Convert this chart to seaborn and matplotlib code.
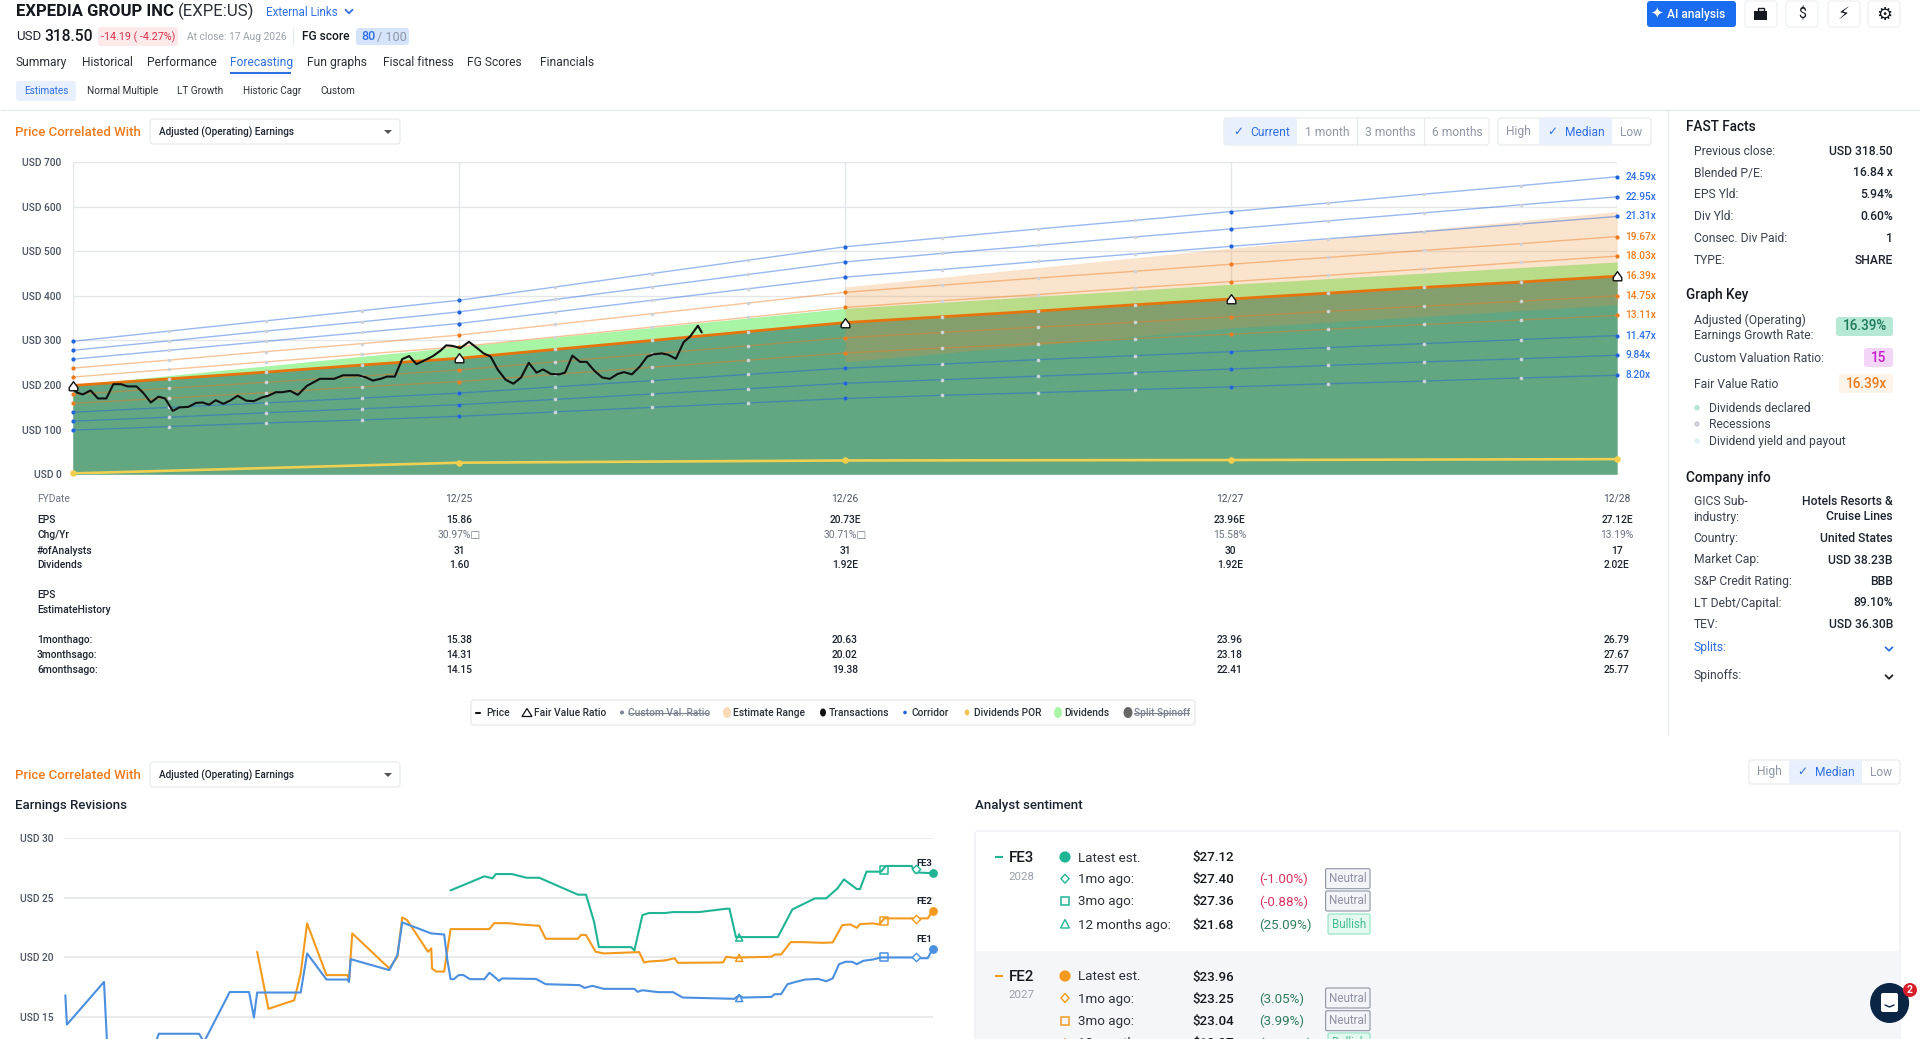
import matplotlib
matplotlib.use("Agg")
import matplotlib.pyplot as plt
from matplotlib.patches import FancyBboxPatch, Rectangle, Ellipse, Circle, Polygon
import seaborn as sns

# ---------- main chart data ----------
quarters = [0, .25, .5, .75, 1, 1.25, 1.5, 1.75, 2, 2.25, 2.5, 2.75, 3, 3.25, 3.5, 3.75, 4]
year_pos = [0, 1, 2, 3, 4]
year_labels = ["12/25", "12/26", "12/27", "12/28"]
y_ticks_main = [0, 100, 200, 300, 400, 500, 600, 700]

line_2459 = [298, 321, 344, 367, 390, 420, 450, 480, 510, 530, 550, 569, 589, 608, 628, 647, 667]
line_2295 = [278, 299, 321, 342, 364, 392, 420, 448, 476, 495, 513, 532, 550, 568, 586, 604, 622]
line_2131 = [258, 278, 298, 318, 338, 364, 390, 416, 442, 459, 477, 494, 511, 528, 544, 561, 578]
line_1967 = [238, 256, 275, 293, 312, 336, 360, 384, 408, 424, 440, 455, 471, 486, 502, 517, 533]
line_1803 = [218, 235, 252, 269, 286, 308, 330, 352, 374, 389, 403, 418, 432, 446, 460, 475, 489]
line_1639 = [199, 214, 229, 245, 260, 280, 300, 320, 340, 353, 366, 380, 393, 406, 419, 431, 444]
line_1475 = [179, 193, 206, 220, 234, 252, 270, 288, 306, 318, 330, 341, 353, 365, 377, 388, 400]
line_1311 = [159, 171, 183, 196, 208, 224, 240, 256, 272, 283, 293, 304, 314, 325, 336, 346, 356]
line_1147 = [139, 150, 160, 171, 182, 196, 210, 224, 238, 247, 257, 266, 275, 284, 293, 302, 311]
line_984 = [119, 128, 138, 147, 156, 168, 180, 192, 204, 212, 220, 228, 236, 244, 252, 259, 267]
line_820 = [99, 107, 115, 122, 130, 140, 150, 160, 170, 177, 183, 190, 196, 203, 209, 216, 222]

corridor_blue = {"24.59x": line_2459, "22.95x": line_2295, "21.31x": line_2131,
                 "11.47x": line_1147, "9.84x": line_984, "8.20x": line_820}
corridor_orange = {"19.67x": line_1967, "18.03x": line_1803,
                   "14.75x": line_1475, "13.11x": line_1311}

fair_value = [199, 260, 340, 393, 444]
dividend_top = [200, 286, 372, 426, 476]
estimate_x = [2, 3, 4]
estimate_high = [420, 507, 589]
estimate_low = [252, 328, 380]
dividend_por = [2, 26, 31, 32, 34]

price_t = [0, .011, .026, .046, .065, .087, .105, .125, .142, .165, .182, .202, .222, .239, .259,
           .276, .299, .319, .336, .353, .370, .390, .407, .427, .449, .469, .489, .506, .526, .542,
           .563, .583, .606, .640, .677, .700, .740, .760, .777, .797, .814, .834, .853, .871, .890,
           .908, .933, .952, .967, .982, 1.004, 1.026, 1.047, 1.064, 1.082, 1.101, 1.121, 1.141, 1.161,
           1.181, 1.201, 1.218, 1.238, 1.260, 1.275, 1.294, 1.314, 1.331, 1.351, 1.371, 1.391, 1.411,
           1.428, 1.448, 1.468, 1.488, 1.505, 1.525, 1.542, 1.562, 1.582, 1.599, 1.619, 1.629]
price_v = [193, 183, 179, 188, 170, 170, 202, 202, 197, 197, 183, 161, 174, 170, 142,
           150, 151, 160, 161, 156, 166, 158, 165, 176, 165, 164, 172, 176, 184, 184,
           187, 178, 198, 214, 214, 222, 222, 217, 210, 214, 219, 219, 258, 265, 247,
           254, 265, 277, 289, 288, 283, 297, 283, 271, 264, 234, 212, 203, 217,
           250, 228, 235, 225, 224, 228, 266, 252, 252, 232, 217, 214, 225,
           229, 224, 241, 264, 269, 271, 268, 259, 296, 309, 333, 318]

# ---------- table ----------
table_rows = ["EPS", "Chg/Yr", "#ofAnalysts", "Dividends"]
eps_row = ["15.86", "20.73E", "23.96E", "27.12E"]
chg_row = ["30.97%\u25a1", "30.71%\u25a1", "15.58%", "13.19%"]
analysts_row = ["31", "31", "30", "17"]
dividends_row = ["1.60", "1.92E", "1.92E", "2.02E"]
hist_labels = ["1monthago:", "3monthsago:", "6monthsago:"]
hist_1m = ["15.38", "20.63", "23.96", "26.79"]
hist_3m = ["14.31", "20.02", "23.18", "27.67"]
hist_6m = ["14.15", "19.38", "22.41", "25.77"]

# ---------- earnings revisions ----------
y_ticks_rev = [15, 20, 25, 30]
fe1_m = [53.8, 53.7, 51.4, 51.2, 48.3, 48.0, 45.5, 45.2, 43.6, 42.4, 42.1, 41.9, 39.2, 38.8, 37.6, 36.3, 36.2, 36.1,
         33.7, 33.2, 32.9, 31.1, 30.3, 30.1, 29.9, 29.7, 29.4, 29.1, 28.7, 27.8, 27.5, 27.3, 26.9, 26.7, 24.6, 24.0,
         21.9, 21.6, 21.1, 20.4, 18.5, 18.3, 18.0, 17.0, 16.1, 15.5, 12.3, 12.0, 11.8, 10.0, 9.8, 9.4, 9.0, 8.5, 7.9,
         7.1, 6.6, 6.2, 5.8, 5.4, 5.0, 4.7, 4.3, 3.7, 3.2, 1.3, 0.9, 0.3, 0]
fe1_v = [16.83, 14.37, 17.95, 12.5, 12.5, 13.6, 13.6, 12.9, 17.1, 17.1, 14.96, 17.06, 17.06, 20.34, 18.15, 18.15, 17.95, 19.86,
         18.94, 20.2, 22.94, 22.02, 21.93, 19.78, 18.18, 18.18, 18.52, 18.52, 18.18, 18.18, 18.71, 18.52, 18.04, 18.24, 18.2, 17.76,
         17.68, 17.45, 17.62, 17.37, 17.37, 17.12, 17.25, 17.09, 17.09, 16.64, 16.53, 16.83, 16.64, 16.69, 16.92, 16.92, 17.76, 17.95, 18.15,
         18.2, 18.01, 18.24, 19.44, 19.64, 19.64, 19.44, 19.72, 19.83, 20.0, 20.0, 19.94, 19.94, 20.73]
fe2_m = [41.9, 41.2, 39.6, 39.2, 38.8, 37.6, 36.3, 36.2, 36.0, 33.7, 33.2, 32.9, 32.6, 31.3, 31.1, 31.05, 30.8, 30.3, 29.9,
         27.5, 27.2, 26.3, 25.6, 24.4, 24.0, 22.0, 21.8, 21.5, 20.9, 20.4, 18.2, 17.9, 17.6, 16.6, 16.0, 15.8, 13.0, 12.8,
         12.3, 12.0, 10.0, 9.8, 9.4, 8.8, 8.1, 6.8, 6.2, 5.6, 5.1, 4.7, 4.5, 3.7, 3.3, 3.0, 0.9, 0.3, 0]
fe2_v = [20.48, 15.69, 16.41, 18.66, 22.86, 18.52, 18.52, 18.1, 22.02, 19.08, 20.06, 23.36, 23.14, 20.48, 20.76, 19.08, 18.82, 18.82, 22.38,
         22.38, 22.88, 22.88, 22.77, 22.66, 21.57, 21.57, 21.9, 21.88, 20.48, 20.34, 20.45, 19.58, 19.66, 19.75, 19.94, 19.55, 19.58, 20.06,
         19.97, 20.0, 20.06, 20.25, 20.25, 21.29, 21.29, 21.23, 21.26, 22.72, 22.77, 22.49, 22.8, 22.86, 22.77, 23.28, 23.28, 23.28, 23.92]
fe3_m = [29.9, 27.8, 27.3, 27.1, 26.1, 25.2, 24.4, 22.0, 21.5, 21.0, 20.7, 18.7, 18.5, 18.0, 17.6, 16.6, 16.1, 14.5,
         12.8, 12.6, 12.2, 9.6, 8.7, 7.3, 6.6, 5.9, 5.5, 4.7, 4.5, 4.1, 3.2, 2.9, 1.3, 1.1, 0.3, 0]
fe3_v = [25.63, 26.81, 26.64, 27.0, 27.0, 26.69, 26.69, 25.27, 25.27, 23.0, 20.87, 20.87, 20.59, 23.56, 23.73, 23.73, 23.81, 23.81,
         24.09, 24.09, 21.71, 21.71, 24.03, 24.96, 24.96, 25.8, 26.55, 25.74, 25.74, 27.2, 27.2, 27.68, 27.68, 27.14, 27.09, 27.06]
ago_marks = [1, 3, 12]
fe1_marks = [20.05, 20.02, 16.6]
fe2_marks = [23.25, 23.04, 19.97]
fe3_marks = [27.40, 27.36, 21.68]

BLUE, ORANGE_L, TEAL = "#4a8fe0", "#f39a1e", "#1fb594"

sns.set_theme(style="white")
plt.rcParams["font.family"] = ["Roboto", "DejaVu Sans"]
plt.rcParams["axes.unicode_minus"] = False

W, H = 1920, 1039
fig = plt.figure(figsize=(19.2, 10.39), dpi=100, facecolor="white")
ui = fig.add_axes([0, 0, 1, 1], zorder=0)
ui.set_xlim(0, W)
ui.set_ylim(H, 0)
ui.axis("off")


def T(x, y, s, px=12.5, c="#333a45", ha="left", w="normal", **kw):
    return ui.text(x, y + 1, s, fontsize=px * 0.72, color=c, ha=ha, va="center", fontweight=w, **kw)


def B(x0, y0, x1, y1, fc="white", ec="none", r=3, lw=0.8, z=1):
    ui.add_patch(FancyBboxPatch((x0 + r, y0 + r), x1 - x0 - 2 * r, y1 - y0 - 2 * r,
                                boxstyle=f"round,pad={r},rounding_size={r}",
                                fc=fc, ec=ec, lw=lw, zorder=z))


def HL(y, x0, x1, c="#e6e8ec", lw=0.9):
    ui.plot([x0, x1], [y, y], color=c, lw=lw, zorder=1, solid_capstyle="butt")


def VL(x, y0, y1, c="#e6e8ec", lw=0.9):
    ui.plot([x, x], [y0, y1], color=c, lw=lw, zorder=1, solid_capstyle="butt")


def chevron(x, y, c, s=3.5):
    ui.plot([x - s, x, x + s], [y - s * .5, y + s * .5, y - s * .5], color=c, lw=1.3, zorder=3)


LBLUE, LINK, ORANGE = "#e8f0fd", "#2f6fe4", "#ee7a1c"
DARK = "#1c2430"

# ---------- header ----------
T(15.5, 10.5, "EXPEDIA GROUP INC", 16.6, "#14181f", w="bold")
T(178, 10.5, "(EXPE:US)", 16.8, "#2b3038")
T(266, 11, "External Links", 11.6, LINK)
chevron(349, 11.5, LINK)
T(16, 36, "USD", 13.2, DARK)
T(44, 35.5, "318.50", 15.6, "#14181f", w="medium")
B(98, 27, 178, 46, "#fde8ea")
T(138, 36, "-14.19 ( -4.27%)", 10.8, "#d8324a", ha="center")
T(187, 36, "At close: 17 Aug 2026", 10.2, "#9aa1ab")
VL(293, 28, 45)
T(302, 36, "FG score", 12, "#14181f", w="medium")
B(356, 28, 409, 45, "#d6e4fb")
T(361, 36, "80", 12.6, LINK, w="medium")
T(377, 36, "/ 100", 12.6, "#8d97a6")

for x, s in zip([16, 82, 147, 230, 307, 383, 467, 540],
                ["Summary", "Historical", "Performance", "Forecasting", "Fun graphs",
                 "Fiscal fitness", "FG Scores", "Financials"]):
    T(x, 61.5, s, 12, LINK if s == "Forecasting" else "#2b3038")
ui.plot([230, 291], [73, 73], color=LINK, lw=1.5, zorder=2, solid_capstyle="butt")
B(16, 81, 76, 101, LBLUE)
for x, s in zip([24, 87, 177, 243, 320],
                ["Estimates", "Normal Multiple", "LT Growth", "Historic Cagr", "Custom"]):
    T(x, 90.5, s, 10, LINK if s == "Estimates" else "#2b3038")
HL(109.5, 0, W)
VL(1668, 110, 735)


def correlated(y):
    T(15, y - 0.5, "Price Correlated With", 13.3, ORANGE, w="medium")
    B(150, y - 13, 400, y + 12, "white", "#e6e8ec")
    T(159, y - 0.5, "Adjusted (Operating) Earnings", 10, "#1c2430", w="medium")
    ui.add_patch(Polygon([[384, y - 2], [392, y - 2], [388, y + 2]], fc="#555", ec="none", zorder=3))


correlated(132)

# top right buttons
B(1647, 1, 1736, 27, "#1a6cf0")
T(1696, 13.5, "AI analysis", 12, "white", ha="center", w="medium")
T(1657, 13, "\u2726", 15, "white", ha="center")
for x0, s, sz in zip([1745, 1786, 1828, 1868], ["", "$", "\u26a1", "\u2699"], [14, 14, 17, 18]):
    B(x0, 1, x0 + 32, 27, "white", "#eceef1")
    if s:
        T(x0 + 16, 13.5, s, sz, "#14181f", ha="center")
ui.add_patch(Rectangle((1754, 11), 13, 9, fc="#14181f", ec="none", zorder=3))
ui.add_patch(Rectangle((1757.5, 8), 6, 3, fc="none", ec="#14181f", lw=1, zorder=3))

# range buttons
B(1224, 118, 1489, 145, "white", "#e6e8ec")
B(1224.5, 118.5, 1297, 144.5, LBLUE, r=2)
for x in [1357, 1424]:
    VL(x, 118, 145)
T(1238, 131, "\u2713", 12, LINK, ha="center")
T(1250, 131, "Current", 12, LINK)
for x, s in zip([1327, 1390, 1457], ["1 month", "3 months", "6 months"]):
    T(x, 131, s, 12, "#8d97a6", ha="center")


def hml(x0, x1, d1, d2, y0, y1, yt):
    B(x0, y0, x1, y1, "white", "#e6e8ec")
    B(d1, y0 + .5, d2, y1 - .5, LBLUE, r=1)
    T((x0 + d1) / 2, yt, "High", 12, "#8d97a6", ha="center")
    T(d1 + 13, yt, "\u2713", 12, LINK, ha="center")
    T(d1 + 26, yt, "Median", 12, LINK)
    T((d2 + x1) / 2, yt, "Low", 12, "#8d97a6", ha="center")


hml(1498, 1651, 1539, 1612, 118, 145, 131)

# ---------- main chart ----------
ax = fig.add_axes([72.8 / W, 1 - 474.3 / H, (1617.2 - 72.8) / W, (474.3 - 162) / H], zorder=2)
ax.patch.set_alpha(0)
ax.set_xlim(0, 4)
ax.set_ylim(0, 700)
for s in ax.spines.values():
    s.set_visible(False)
ax.set_xticks(year_pos)
ax.set_xticklabels([])
ax.set_yticks(y_ticks_main)
ax.set_yticklabels([f"USD {v}" for v in y_ticks_main], fontsize=7.4, color="#4a5463", fontweight="medium")
ax.tick_params(axis="y", length=0, pad=8)
ax.tick_params(axis="x", length=4, color="#d9dce1", width=0.8)
ax.grid(True, color="#e4e6ea", lw=1.0)
ax.set_axisbelow(True)

ax.fill_between(year_pos, 0, fair_value, color="#63a682", lw=0, zorder=1.2)
ax.fill_between(year_pos, fair_value, dividend_top, color="#a9f5a6", lw=0, zorder=1.2)
ax.fill_between(estimate_x, estimate_low, estimate_high, color="#f28c28", alpha=0.23, lw=0, zorder=1.4)

for name, vals in list(corridor_blue.items()) + list(corridor_orange.items()):
    col = "#1f63dd" if name in corridor_blue else "#ee7a1c"
    sns.lineplot(x=quarters, y=vals, ax=ax, color=col, lw=1.0, alpha=0.45, estimator=None, sort=False, zorder=2)
    ax.scatter(quarters, vals, s=7, color="#cfd4da", lw=0, zorder=2.5, clip_on=False)
    ax.scatter(quarters[::4], vals[::4], s=9, color=col, lw=0, zorder=2.6, clip_on=False)
    ax.annotate(name, (4, vals[-1]), xytext=(6, 0), textcoords="offset points", fontsize=7.3,
                color="#2f6fe4" if name in corridor_blue else "#ee7a1c", va="center", annotation_clip=False,
                fontweight="medium")

sns.lineplot(x=quarters, y=line_1639, ax=ax, color="#e6740c", lw=2.0, estimator=None, sort=False, zorder=3)
ax.annotate("16.39x", (4, line_1639[-1]), xytext=(6, 0), textcoords="offset points", fontsize=7.3,
            color="#ee7a1c", va="center", annotation_clip=False, fontweight="medium")
ax.scatter(quarters[1:-1], line_1639[1:-1], s=7, color="#cfd4da", lw=0, zorder=3.1)
sns.lineplot(x=year_pos, y=dividend_por, ax=ax, color="#f0d050", lw=1.9, estimator=None, sort=False, zorder=3)
ax.scatter(year_pos, dividend_por, s=22, color="#f2cf4a", lw=0, zorder=3.2, clip_on=False)
sns.lineplot(x=price_t, y=price_v, ax=ax, color="#101010", lw=1.5, estimator=None, sort=False, zorder=4)
hut = [(-.8, -.8), (.8, -.8), (.8, -.2), (0, .9), (-.8, -.2), (-.8, -.8)]
ax.scatter(year_pos, fair_value, marker=hut, s=48, facecolor="white", edgecolor="#111", lw=1.0, zorder=5, clip_on=False)
ax.set_xlabel("")
ax.set_ylabel("")

# ---------- table ----------
col_x = [459, 845, 1230, 1617]
grey_txt = "#6b7280"
T(37, 498, "FYDate", 10.2, grey_txt)
for x, s in zip(col_x, year_labels):
    T(x, 498, s, 10.2, "#4a5463", ha="center")
for y, lab, row, c, wt in zip([519, 534, 550, 564.5], table_rows,
                              [eps_row, chg_row, analysts_row, dividends_row],
                              ["#1c2430", "#6b7280", "#1c2430", "#1c2430"],
                              ["medium", "normal", "medium", "medium"]):
    T(37, y, lab, 10.2, "#1c2430", w="medium")
    for x, s in zip(col_x, row):
        T(x, y, s, 10.2, c, ha="center", w=wt)
T(37, 594, "EPS", 10.2, "#1c2430", w="medium")
T(37, 608.6, "EstimateHistory", 10.2, "#1c2430", w="medium")
for y, lab, row in zip([639, 654, 669], hist_labels, [hist_1m, hist_3m, hist_6m]):
    T(37, y, lab, 10.2, "#1c2430", w="medium")
    for x, s in zip(col_x, row):
        T(x, y, s, 10.2, "#1c2430", ha="center", w="medium")

# ---------- legend ----------
B(471, 700, 1195, 725, "white", "#e3e5e9")
ly = 712.5
lg_txt = "#2b3038"
LS = 10.25
ui.plot([475.5, 480], [ly, ly], color="#111", lw=1.5, zorder=3)
T(486, ly - 1, "Price", LS, lg_txt, w="medium")
ui.add_patch(Polygon([[522, ly + 4], [532, ly + 4], [527, ly - 4]], fc="white", ec="#111", lw=0.9, zorder=3))
T(534, ly - 1, "Fair Value Ratio", LS, lg_txt, w="medium")
ui.add_patch(Circle((622, ly), 2, fc="#7a8290", ec="none", zorder=3))
T(628, ly - 1, "Custom Val. Ratio", LS, "#7a8290", w="medium")
ui.plot([628, 708], [ly, ly], color="#7a8290", lw=0.8, zorder=4)
ui.add_patch(Ellipse((727, ly), 8, 11, fc="#fbd9b4", ec="none", zorder=3))
T(733, ly - 1, "Estimate Range", LS, lg_txt, w="medium")
ui.add_patch(Ellipse((823, ly), 6, 8, fc="#111", ec="none", zorder=3))
T(829, ly - 1, "Transactions", LS, lg_txt, w="medium")
ui.add_patch(Circle((905, ly), 1.8, fc="#1f63dd", ec="none", zorder=3))
T(911, ly - 1, "Corridor", LS, lg_txt, w="medium")
ui.add_patch(Ellipse((967, ly), 4.5, 6, fc="#f8c050", ec="none", zorder=3))
T(974, ly - 1, "Dividends POR", LS, lg_txt, w="medium")
ui.add_patch(Ellipse((1058, ly), 8, 11, fc="#a9f5a6", ec="none", zorder=3))
T(1064, ly - 1, "Dividends", LS, lg_txt, w="medium")
ui.add_patch(Ellipse((1128, ly), 9, 11, fc="#666", ec="none", zorder=3))
T(1134, ly - 1, "Split Spinoff", LS, "#7a8290", w="medium")
ui.plot([1134, 1189], [ly, ly], color="#7a8290", lw=0.8, zorder=4)

# ---------- right panel ----------
lab_c, val_c = "#3a4250", "#1c2430"
RX, LX = 1893, 1693.5
T(1685.5, 126, "FAST Facts", 13.6, "#14181f", w="medium")
for y, a, b in zip([150.5, 172, 194, 215.6, 237, 259],
                   ["Previous close:", "Blended P/E:", "EPS Yld:", "Div Yld:", "Consec. Div Paid:", "TYPE:"],
                   ["USD 318.50", "16.84 x", "5.94%", "0.60%", "1", "SHARE"]):
    T(LX, y, a, 12.1, lab_c)
    T(RX, y, b, 12.1, val_c, ha="right", w="medium")
T(1685.5, 294.4, "Graph Key", 13.6, "#14181f", w="medium")
T(LX, 319, "Adjusted (Operating)", 12.1, lab_c)
T(LX, 334, "Earnings Growth Rate:", 12.1, lab_c)
B(1836, 317, 1893, 336, "#b5e8d5")
T(1864.5, 325.5, "16.39%", 13.5, "#1f7a5c", ha="center", w="medium")
T(LX, 357.6, "Custom Valuation Ratio:", 12.1, lab_c)
B(1864, 348, 1893, 367, "#f3d5f7")
T(1878.5, 356.6, "15", 13.5, "#c91bd0", ha="center", w="medium")
T(LX, 383.6, "Fair Value Ratio", 12.1, lab_c)
B(1839, 374, 1893, 393, "#fdf3e9")
T(1866, 382.6, "16.39x", 13.5, ORANGE, ha="center", w="medium")
for y, s, c in zip([407.7, 424, 441], ["Dividends declared", "Recessions", "Dividend yield and payout"],
                   ["#b5e8d5", "#cdd0dc", "#dff2f2"]):
    ui.add_patch(Circle((1697, y), 2.8, fc=c, ec="none", zorder=3))
    T(1709, y, s, 12.1, lab_c)
T(1685.5, 476.6, "Company info", 13.6, "#14181f", w="medium")
T(LX, 500.7, "GICS Sub-", 12.1, lab_c)
T(LX, 516, "industry:", 12.1, lab_c)
T(RX, 500.7, "Hotels Resorts &", 12.1, val_c, ha="right", w="medium")
T(RX, 516, "Cruise Lines", 12.1, val_c, ha="right", w="medium")
for y, a, b in zip([537.4, 559, 580.7, 602, 623.5],
                   ["Country:", "Market Cap:", "S&P Credit Rating:", "LT Debt/Capital:", "TEV:"],
                   ["United States", "USD 38.23B", "BBB", "89.10%", "USD 36.30B"]):
    T(LX, y, a, 12.1, lab_c)
    T(RX, y, b, 12.1, val_c, ha="right", w="medium")
T(LX, 647, "Splits:", 12.1, LINK)
chevron(1889, 649, LINK, 3.5)
T(LX, 675, "Spinoffs:", 12.1, lab_c)
chevron(1889, 677, "#222", 3.5)

# ---------- lower section ----------
correlated(775)
hml(1749, 1900, 1789, 1862, 760, 784, 771)
T(15, 805, "Earnings Revisions", 13.2, "#1c2430", w="medium")
T(975, 805, "Analyst sentiment", 13.2, "#1c2430", w="medium")

ax2 = fig.add_axes([63.7 / W, 0, (932.6 - 63.7) / W, (H - 838.3) / H], zorder=2)
ax2.patch.set_alpha(0)
ax2.set_xlim(53.9, 0)
ax2.set_ylim(13.16, 30)
for s in ax2.spines.values():
    s.set_visible(False)
ax2.set_xticks([])
ax2.set_yticks(y_ticks_rev)
ax2.set_yticklabels([f"USD {v}" for v in y_ticks_rev], fontsize=7.4, color="#4a5463", fontweight="medium")
ax2.tick_params(axis="y", length=0, pad=7)
ax2.grid(True, axis="y", color="#e6e8ec", lw=1.3)
ax2.set_axisbelow(True)
for m, v, c, marks, lab in [(fe3_m, fe3_v, TEAL, fe3_marks, "FE3"),
                            (fe2_m, fe2_v, ORANGE_L, fe2_marks, "FE2"),
                            (fe1_m, fe1_v, BLUE, fe1_marks, "FE1")]:
    sns.lineplot(x=m, y=v, ax=ax2, color=c, lw=1.5, estimator=None, sort=False, zorder=3)
    ax2.scatter(ago_marks[:1], marks[:1], marker="D", s=18, facecolor="white", edgecolor=c, lw=1, zorder=4)
    ax2.scatter(ago_marks[1:2], marks[1:2], marker="s", s=30, facecolor="none", edgecolor=c, lw=1.1, zorder=4)
    ax2.scatter(ago_marks[2:], marks[2:], marker="^", s=26, facecolor="none", edgecolor=c, lw=1.1, zorder=4)
    ax2.scatter([m[-1]], [v[-1]], s=40, color=c, lw=0, zorder=5, clip_on=False)
    ax2.annotate(lab, (m[-1], v[-1]), xytext=(0, 7), textcoords="offset points", fontsize=6.8, fontweight="bold",
                 color="#1c2430", ha="right", va="center", annotation_clip=False)
ax2.set_xlabel("")
ax2.set_ylabel("")

# ---------- analyst sentiment ----------
B(975, 831, 1900, 1060, "white", "#e9ebef")
ui.add_patch(Rectangle((975.5, 950.7), 924, 95, fc="#f5f6fa", ec="none", zorder=1.5))
POS, NEG = "#2e7d5b", "#d8325f"
sent_fe3 = ["Latest est.", "$27.12"], ["1mo ago:", "$27.40", "(-1.00%)", "Neutral"], ["3mo ago:", "$27.36", "(-0.88%)", "Neutral"], ["12 months ago:", "$21.68", "(25.09%)", "Bullish"]
sent_fe2 = ["Latest est.", "$23.96"], ["1mo ago:", "$23.25", "(3.05%)", "Neutral"], ["3mo ago:", "$23.04", "(3.99%)", "Neutral"], ["12 months ago:", "$19.97", "(19.98%)", "Bullish"]


def block(rows, ys, name, year, col):
    y0 = ys[0]
    ui.plot([995, 1003], [y0, y0], color=col, lw=1.5, zorder=3, solid_capstyle="butt")
    T(1009, y0, name, 15, "#14181f", w="medium")
    T(1008, y0 + 18.5, year, 11.5, "#9aa1ab")
    mk_x = 1065
    ui.add_patch(Circle((mk_x, y0), 5.6, fc=col, ec="none", zorder=3))
    ui.add_patch(Polygon([[mk_x, ys[1] - 4.5], [mk_x + 4, ys[1]], [mk_x, ys[1] + 4.5], [mk_x - 4, ys[1]]],
                         fc="none", ec=col, lw=1, zorder=3))
    ui.add_patch(Rectangle((mk_x - 3.6, ys[2] - 4), 7.2, 8, fc="none", ec=col, lw=1.1, zorder=3))
    ui.add_patch(Polygon([[mk_x - 4.4, ys[3] + 4], [mk_x + 4.4, ys[3] + 4], [mk_x, ys[3] - 4.5]],
                         fc="none", ec=col, lw=1, zorder=3))
    for y, r in zip(ys, rows):
        T(1077.5, y, r[0], 13.4, "#2b3038")
        T(1192.7, y, r[1], 13.4, "#14181f", w="medium")
        if len(r) > 2:
            T(1259, y, r[2], 13.4, NEG if r[2].startswith("(-") else POS)
            if r[3] == "Neutral":
                B(1325.6, y - 10, 1370, y + 10, "#f3f4f8", "#8d93a3", r=1.5, z=2)
                T(1347.8, y - 1, r[3], 11.6, "#8d93a3", ha="center")
            else:
                B(1328, y - 10, 1370, y + 10, "#e6f9f1", "#8ee3c2", r=1.5, z=2)
                T(1349, y - 1, r[3], 11.6, "#3fbf8f", ha="center")


block(sent_fe3, [857, 878.7, 901, 924], "FE3", "2028", TEAL)
block(sent_fe2, [976, 998, 1020.7, 1043], "FE2", "2027", ORANGE_L)

# chat bubble
ui.add_patch(Ellipse((1889.6, 1003), 39, 40, fc="#0b2545", ec="none", zorder=6))
B(1881, 993, 1898, 1012, "white", "none", r=2, z=7)
ui.plot([1885, 1889.5, 1894], [1005, 1007, 1005], color="#0b2545", lw=1, zorder=8)
ui.add_patch(Circle((1910, 990), 7, fc="#d91c2a", ec="none", zorder=8))
ui.text(1910, 990, "2", fontsize=7.5, color="white", ha="center", va="center", fontweight="bold", zorder=9)

fig.savefig("out.png", dpi=100, facecolor="white")
